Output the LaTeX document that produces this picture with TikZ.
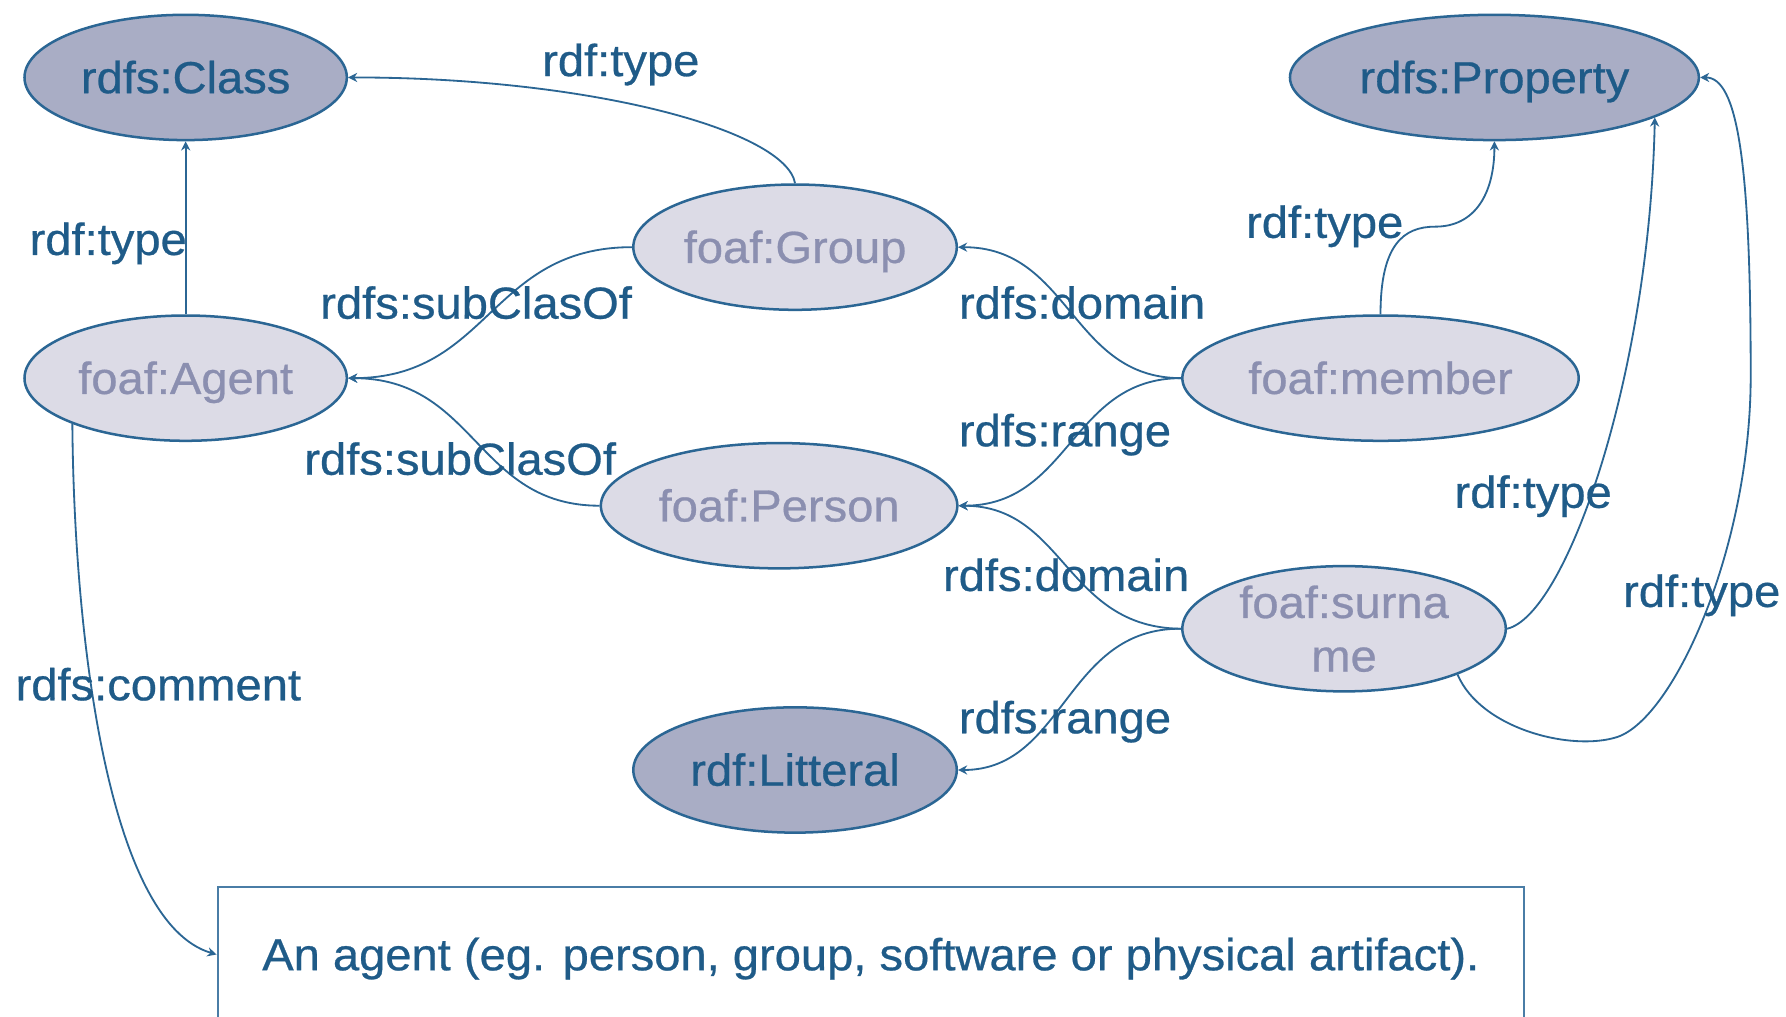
\documentclass[tikz,border=0pt]{standalone}
\usepackage{fontspec}
\setmainfont{Liberation Sans}[FakeStretch=1.05,FakeBold=0.6]
\usetikzlibrary{shapes.geometric,arrows.meta}
\definecolor{edgeblue}{HTML}{2B6694}
\definecolor{labelblue}{HTML}{1F5B88}
\definecolor{classfill}{HTML}{A9ADC5}
\definecolor{instfill}{HTML}{DCDBE6}
\definecolor{insttext}{HTML}{8B8FB0}
\definecolor{boxline}{HTML}{4A7DA6}
\begin{document}
\begin{tikzpicture}[x=0.5pt,y=-0.5pt,
  font=\fontsize{19.7}{23.5}\selectfont,
  term/.style={ellipse, draw=edgeblue, line width=1.1pt, inner sep=0pt,
    minimum height=55pt},
  oneline/.style={text height=13.8pt, text depth=0pt},
  cls/.style={term, oneline, fill=classfill, text=labelblue},
  inst/.style={term, fill=instfill, text=insttext},
  lbl/.style={oneline, inner sep=0pt, text=labelblue},
  rel/.style={draw=edgeblue, line width=0.8pt,
    -{Stealth[length=4pt,width=4pt]}}]
\useasboundingbox (0,0) rectangle (1568,892);
\clip (0,0) rectangle (1568,892);
\fill[white] (0,0) rectangle (1568,892);

% classes and properties
\node[cls, minimum width=141.5pt] (C)  at (163,68)   {rdfs:Class};
\node[cls, minimum width=179.5pt] (Pr) at (1312,68)  {rdfs:Property};
\node[cls, minimum width=142pt]   (L)  at (698,676)  {rdf:Litteral};
\node[inst, oneline, minimum width=142pt]   (G) at (698,217)  {foaf:Group};
\node[inst, oneline, minimum width=141.5pt] (A) at (163,332)  {foaf:Agent};
\node[inst, oneline, minimum width=174pt]   (M) at (1212,332) {foaf:member};
\node[inst, oneline, minimum width=156.5pt] (P) at (684,444)  {foaf:Person};
\node[inst, align=center, minimum width=142pt] (S) at (1180,552) {foaf:surna\\me};

% comment box
\node[draw=boxline, line width=0.9pt, text=labelblue, inner sep=0pt,
  minimum width=573.5pt, minimum height=59pt, oneline] (B) at (764.5,838)
  {An agent (eg. person, group, software or physical artifact).};

% relations
\draw[rel] (A.north) -- (C.south);
\draw[rel] (G.north) .. controls (690,115) and (520,68) .. (C.east);
\draw[rel] (G.west) .. controls (430,217) and (430,332) .. (A.east);
\draw[rel] (P.west) .. controls (418,444) and (418,332) .. (A.east);
\draw[rel] (M.west) .. controls (940,332) and (940,217) .. (G.east);
\draw[rel] (M.west) .. controls (940,332) and (940,444) .. (P.east);
\draw[rel] (S.west) .. controls (935,551) and (935,444) .. (P.east);
\draw[rel] (S.west) .. controls (935,551) and (935,676) .. (L.east);
\draw[rel] (M.north) .. controls (1212,215) and (1232,199) .. (1260,199)
  .. controls (1295,199) and (1312,170) .. (Pr.south);
\draw[rel] (S.east) .. controls (1375,540) and (1448,330) .. (Pr.-14);
\draw[rel] (S.-22) .. controls (1300,640) and (1380,660) .. (1420,647)
  .. controls (1470,630) and (1537,480) .. (1537,330)
  .. controls (1537,140) and (1525,68) .. (Pr.east);
\draw[rel] (A.202) .. controls (65,560) and (95,810) .. (B.west);

% relation labels
\node[lbl] (l1)  at (545,53)   {rdf:type};
\node[lbl] (l2)  at (95,210)   {rdf:type};
\node[lbl] (l3)  at (418,266)  {rdfs:subClasOf};
\node[lbl] (l4)  at (404,403)  {rdfs:subClasOf};
\node[lbl] (l5)  at (950,266)  {rdfs:domain};
\node[lbl] (l6)  at (935,378)  {rdfs:range};
\node[lbl] (l7)  at (936,505)  {rdfs:domain};
\node[lbl] (l8)  at (935,630)  {rdfs:range};
\node[lbl] (l9)  at (1163,195) {rdf:type};
\node[lbl] (l10) at (1346,432) {rdf:type};
\node[lbl] (l11) at (1494,519) {rdf:type};
\node[lbl] (l12) at (139,601)  {rdfs:comment};
\end{tikzpicture}
\end{document}
